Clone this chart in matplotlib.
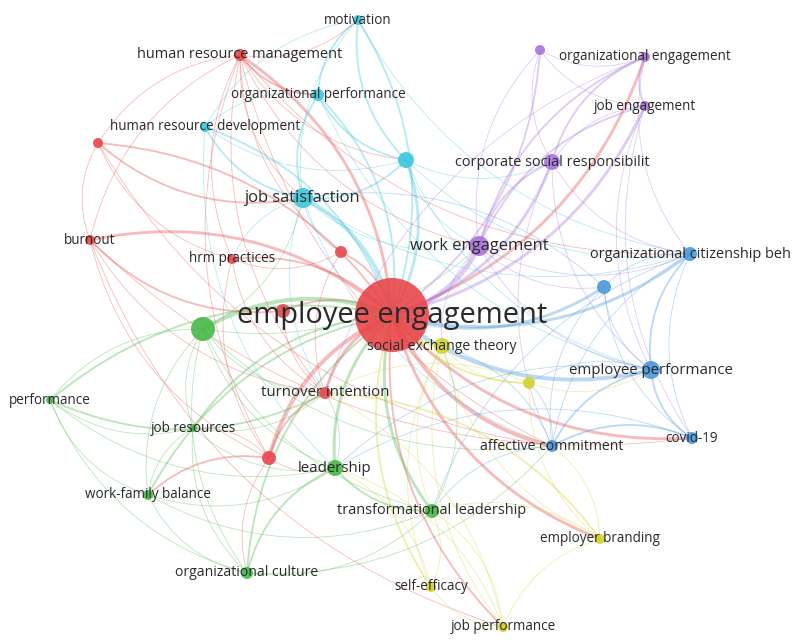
import matplotlib
matplotlib.use("Agg")
import matplotlib.pyplot as plt
from matplotlib.path import Path
from matplotlib.patches import PathPatch

# cluster colours (VOSviewer style)
colors = {
    "red": "#e8474a",
    "green": "#48b848",
    "cyan": "#3cc6dc",
    "purple": "#a874dc",
    "blue": "#4a98dc",
    "yellow": "#d2d22a",
}

# nodes: key, label, layout x, layout y, radius, cluster, font size
keys = ["ee", "hrm", "r1", "burnout", "hrmp", "r2", "r3", "ti", "r4",
        "mot", "orgperf", "hrd", "js", "c1",
        "p1", "oe", "je", "csr", "we",
        "ocb", "b1", "ep", "covid", "ac",
        "set", "y1", "eb", "se", "jp",
        "g1", "perf", "jr", "wfb", "lead", "oc", "tl"]
labels = ["employee engagement", "human resource management", "", "burnout", "hrm practices", "", "",
          "turnover intention", "",
          "motivation", "organizational performance", "human resource development", "job satisfaction", "",
          "", "organizational engagement", "job engagement", "corporate social responsibilit", "work engagement",
          "organizational citizenship beh", "", "employee performance", "covid-19", "affective commitment",
          "social exchange theory", "", "employer branding", "self-efficacy", "job performance",
          "", "performance", "job resources", "work-family balance", "leadership", "organizational culture",
          "transformational leadership"]
node_x = [392, 240, 98, 90, 232, 341, 283, 325, 269,
          358, 318, 205, 303, 406,
          540, 645, 645, 552, 479,
          690, 604, 651, 692, 552,
          442, 529, 600, 431, 503,
          203, 50, 193, 148, 335, 247, 432]
node_y = [315, 55, 143, 240, 259, 252, 311, 393, 458,
          20, 95, 127, 198, 160,
          50, 57, 106, 162, 246,
          254, 287, 370, 438, 446,
          346, 383, 539, 587, 627,
          329, 400, 428, 495, 468, 573, 511]
radius = [37, 6, 5, 5, 5, 6, 7, 6, 7,
          5, 6, 5, 10, 8,
          5, 5, 5, 8, 10,
          7, 7, 9, 6, 6,
          8, 6, 5, 5, 5,
          12, 4, 4, 5, 8, 6, 7]
cluster = ["red"] * 9 + ["cyan"] * 5 + ["purple"] * 5 + ["blue"] * 5 + ["yellow"] * 5 + ["green"] * 7
font_px = [29, 14.5, 0, 13.5, 13.5, 0, 0, 15, 0,
           13.5, 13.5, 13.5, 16.5, 0,
           0, 13.5, 13.5, 14.5, 16.5,
           14.5, 0, 15, 13.5, 14,
           14, 0, 13.5, 13.5, 13.5,
           0, 13.5, 13.5, 13.5, 15, 14, 14.5]

# links: source, target, weight
links = """
ee hrm 3; ee r1 2; ee burnout 3; ee hrmp 2; ee r2 2; ee r3 2; ee ti 3; ee r4 4; ee mot 2; ee orgperf 2;
ee hrd 2; ee js 4; ee c1 3; ee p1 2; ee oe 3; ee je 3; ee csr 3; ee we 5; ee ocb 3; ee b1 3; ee ep 4;
ee covid 3; ee ac 4; ee set 4; ee y1 2; ee eb 3; ee se 2; ee jp 2; ee g1 4; ee perf 2; ee jr 2; ee wfb 2;
ee lead 3; ee oc 2; ee tl 3;
hrm r1 1; hrm hrmp 1; hrm burnout 1; hrm r2 1; hrm ti 1; hrm r4 1; r1 burnout 1; r1 js 2; burnout ti 1;
burnout r4 1; hrmp r2 1; hrmp ti 1; hrmp r4 1; r2 ti 1; r3 ti 1; ti r4 2; r4 lead 1; r4 jr 1; r4 oc 1;
r4 wfb 2; burnout r3 2; r1 hrmp 1; burnout covid 1; r1 ac 1; hrm ac 1; burnout jp 1; hrm we 1;
mot orgperf 2; mot js 1; mot c1 2; mot hrd 1; orgperf js 2; orgperf c1 2; orgperf hrd 1; hrd js 2;
hrd c1 1; js c1 2; js r2 1; js hrmp 1; js ocb 1; js we 1; c1 we 1; c1 ocb 1; c1 csr 1; c1 ep 1; js ti 1;
hrm orgperf 2; hrm mot 1; hrm js 1; hrm ocb 1; hrm c1 1; hrd lead 1; orgperf ep 1; mot ocb 1; js ac 1;
p1 oe 1; p1 je 1; p1 csr 1; p1 we 1; oe je 2; oe csr 2; oe we 2; je csr 1; je we 2; csr we 2; csr ocb 1;
csr ep 1; we ocb 1; we ep 1; we b1 1; oe ocb 1; je ep 1; we set 1; csr ac 1; je covid 1; oe ti 1;
ocb b1 1; ocb ep 2; ocb covid 1; ocb ac 1; b1 ep 1; b1 covid 1; b1 ac 1; ep covid 2; ep ac 2; covid ac 2;
ep y1 1; ac y1 1; ac tl 1; ac set 1; ep lead 1; covid lead 1; ocb tl 1; b1 js 1;
set y1 1; set eb 1; set se 1; set jp 1; set tl 1; y1 eb 1; y1 ep 1; eb jp 1; eb tl 1; se jp 1; se tl 1;
jp tl 1; jp lead 1; eb ac 1; eb ti 2; jp ti 1; se lead 1; y1 ti 1;
g1 perf 1; g1 jr 1; g1 wfb 1; g1 lead 1; g1 oc 1; g1 tl 1; g1 ti 1; perf jr 1; perf wfb 1; perf lead 1;
perf oc 1; perf ti 2; jr wfb 1; jr lead 1; jr oc 1; wfb lead 1; wfb oc 1; lead oc 2; lead tl 2; oc tl 1;
lead ti 1; tl set 1; g1 ac 1; g1 we 1; oc ac 1; wfb tl 1; jr ti 1; g1 js 1
"""

# links from the hub that keep the hub's colour
hub_red = ["hrm", "r1", "burnout", "hrmp", "r2", "r3", "ti", "r4", "eb", "ac", "covid", "oe", "jp"]

idx = {k: i for i, k in enumerate(keys)}
edges = []
for item in links.replace("\n", " ").split(";"):
    parts = item.split()
    if len(parts) == 3:
        edges.append((idx[parts[0]], idx[parts[1]], float(parts[2])))

fig = plt.figure(figsize=(7.93, 6.43), dpi=100)
ax = fig.add_axes([0, 0, 1, 1])
ax.set_xlim(0, 793)
ax.set_ylim(643, 0)
ax.axis("off")

for a, b, w in edges:
    x0, y0 = node_x[a], node_y[a]
    x1, y1 = node_x[b], node_y[b]
    dx, dy = x1 - x0, y1 - y0
    cx = (x0 + x1) / 2 - 0.24 * dy
    cy = (y0 + y1) / 2 + 0.24 * dx
    col = colors[cluster[a]]
    if keys[a] == "ee" and keys[b] not in hub_red:
        col = colors[cluster[b]]
    path = Path([(x0, y0), (cx, cy), (x1, y1)], [Path.MOVETO, Path.CURVE3, Path.CURVE3])
    ax.add_patch(PathPatch(path, fc="none", ec=col, lw=0.6 + 0.75 * (w - 1),
                           alpha=0.36, zorder=1))

for i in range(len(keys)):
    size = (2 * radius[i] * 0.72) ** 2
    ax.scatter(node_x[i], node_y[i], s=size, color=colors[cluster[i]], alpha=0.9,
               edgecolors="none", zorder=2)

for i in range(len(keys)):
    if labels[i]:
        ax.text(node_x[i], node_y[i], labels[i], ha="center", va="center",
                fontsize=font_px[i] * 0.72, family="Open Sans", color="#2a2a2a", zorder=3)

fig.savefig("out.png", dpi=100, facecolor="white")
